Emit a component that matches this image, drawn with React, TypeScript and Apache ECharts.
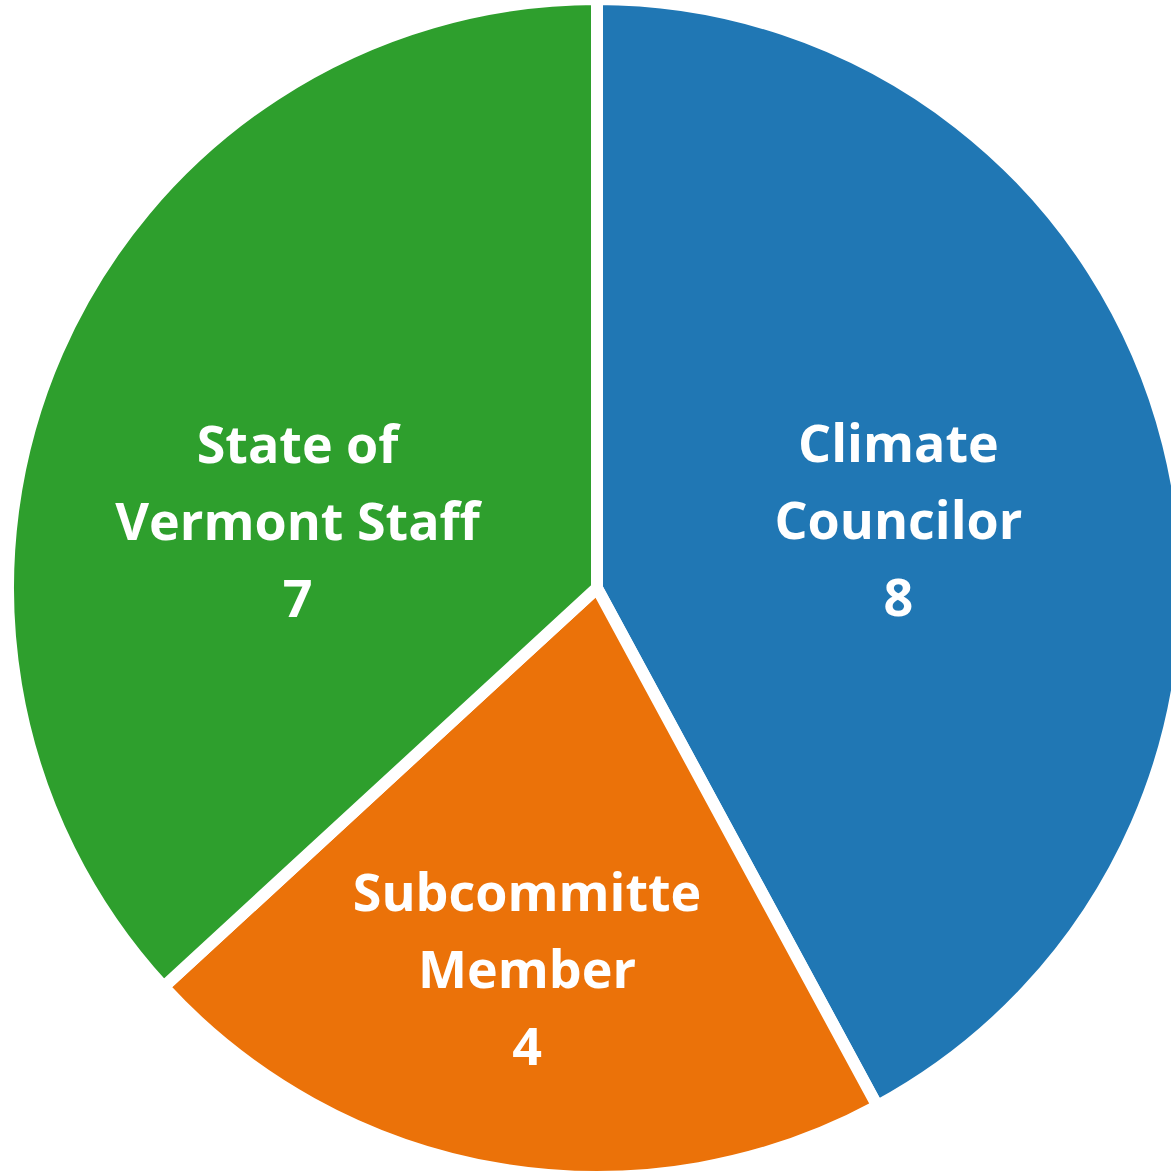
import React, { useEffect, useRef } from "react";
import * as echarts from "echarts";

const categories = ["Climate\nCouncilor", "Subcommitte\nMember", "State of\nVermont Staff"];
const values = [8, 4, 7];
const colors = ["#2077b4", "#eb7209", "#2e9f2d"];
const labelOffsets = [
  [13, 4],
  [-21, 86],
  [-27, 51],
];

export default function App() {
  const ref = useRef<HTMLDivElement>(null);
  useEffect(() => {
    document.body.style.margin = "0";
    const chart = echarts.init(ref.current!, null, { renderer: "svg" });
    chart.setOption({
      animation: false,
      backgroundColor: "#ffffff",
      series: [
        {
          type: "pie",
          center: [597, 588],
          radius: [0, 589],
          startAngle: 90,
          clockwise: true,
          data: categories.map((c, i) => ({
            name: c,
            value: values[i],
            itemStyle: { color: colors[i] },
          })),
          itemStyle: { borderColor: "#ffffff", borderWidth: 12 },
          label: {
            show: true,
            position: "inside",
            formatter: "{b}\n{c}",
            color: "#ffffff",
            fontFamily: "Open Sans",
            fontWeight: "bold",
            fontSize: 52,
            lineHeight: 77,
            align: "center",
          },
          labelLine: { show: false },
          labelLayout: (p: any) => ({
            dx: labelOffsets[p.dataIndex][0],
            dy: labelOffsets[p.dataIndex][1],
          }),
          emphasis: { disabled: true },
        },
      ],
    });
    return () => chart.dispose();
  }, []);
  return (
    <div
      ref={ref}
      style={{ position: "fixed", left: 0, top: 0, width: 1171, height: 1176 }}
    />
  );
}
